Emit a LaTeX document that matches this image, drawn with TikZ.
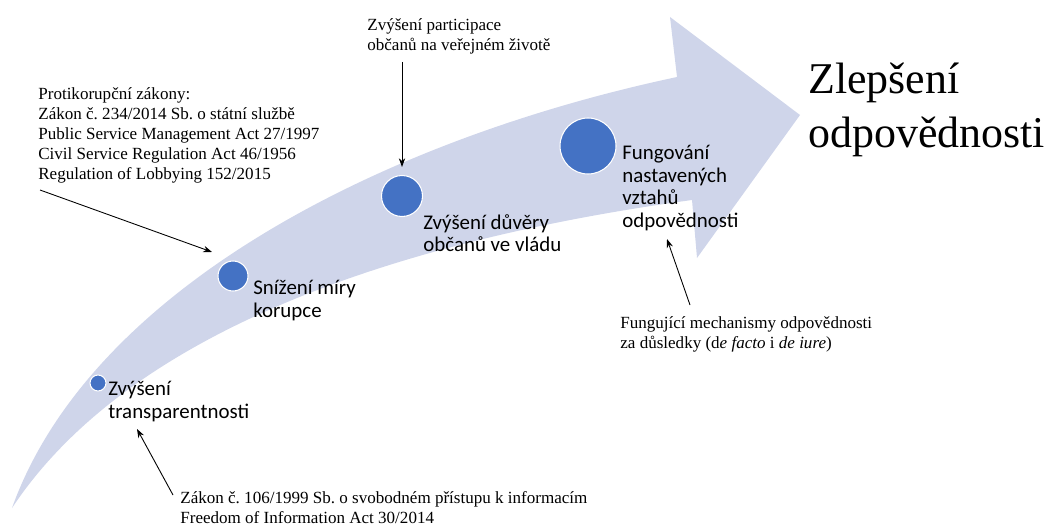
\documentclass[tikz,border=0pt]{standalone}
\usepackage{fontspec}
\setmainfont{Liberation Serif}
\newfontfamily\calibri{Carlito}
\usetikzlibrary{arrows.meta}
\frenchspacing

\definecolor{shaftblue}{HTML}{CFD5EA}
\definecolor{dotblue}{HTML}{4472C4}

\begin{document}
\begin{tikzpicture}[
  x=0.02cm, y=-0.02cm,
  stage/.style={anchor=north west, align=left, inner sep=0pt, font=\calibri\fontsize{11.9}{12.8}\selectfont},
  note/.style={anchor=north west, align=left, inner sep=0pt, font=\fontsize{9.7}{11.45}\selectfont},
  stagedot/.style={circle, fill=dotblue, draw=white, line width=0.6pt, inner sep=0pt},
  pointer/.style={-{Stealth[length=5pt, width=3.6pt]}, line width=0.5pt}
]
  \useasboundingbox (0,0) rectangle (1050,530);

  % The big curved arrow, tail at bottom left.
  \fill[shaftblue] (12,508) .. controls (90,290) and (380,140) .. (677,77)
    -- (670,17) -- (800,115) -- (697,258) -- (692,200)
    .. controls (400,240) and (130,330) .. (12,508) -- cycle;

  % Stages along the arrow, growing circles
  \node[stagedot, minimum size=0.32cm] (d1) at (98,383) {};
  \node[stagedot, minimum size=0.60cm] (d2) at (233,276) {};
  \node[stagedot, minimum size=0.82cm] (d3) at (402,196) {};
  \node[stagedot, minimum size=1.12cm] (d4) at (588,146) {};

  \node[stage] (s1) at (108,381) {Zvýšení\\transparentnosti};
  \node[stage] (s2) at (253,280) {Snížení míry\\korupce};
  \node[stage] (s3) at (423,214) {Zvýšení důvěry\\občanů ve vládu};
  \node[stage] (s4) at (622,145) {Fungování\\nastavených\\vztahů\\odpovědnosti};

  % Goal at the head
  \node[anchor=north west, align=left, inner sep=0pt,
        font=\fontsize{25}{30.6}\selectfont] (goal) at (808,63) {Zlepšení\\odpovědnosti};

  % Notes with the laws
  \node[note] (law1) at (38,87) {Protikorupční zákony:\\Zákon č. 234/2014 Sb. o státní službě\\Public Service Management Act 27/1997\\Civil Service Regulation Act 46/1956\\Regulation of Lobbying 152/2015};
  \node[note] (law2) at (367,18) {Zvýšení participace\\občanů na veřejném životě};
  \node[note] (law3) at (620,316) {Fungující mechanismy odpovědnosti\\za důsledky (d\textit{e facto} i \textit{de iure})};
  \node[note] (law4) at (180,491) {Zákon č. 106/1999 Sb. o svobodném přístupu k informacím\\Freedom of Information Act 30/2014};

  % Pointer ends
  \coordinate (p1a) at (40,190);  \coordinate (p1b) at (212,252);
  \coordinate (p2a) at (402,62);  \coordinate (p2b) at (402,167);
  \coordinate (p3a) at (690,305); \coordinate (p3b) at (667,239);
  \coordinate (p4a) at (173,495); \coordinate (p4b) at (137,429);

  \draw[pointer] (p1a) -- (p1b);
  \draw[pointer] (p2a) -- (p2b);
  \draw[pointer] (p3a) -- (p3b);
  \draw[pointer] (p4a) -- (p4b);

\end{tikzpicture}
\end{document}
